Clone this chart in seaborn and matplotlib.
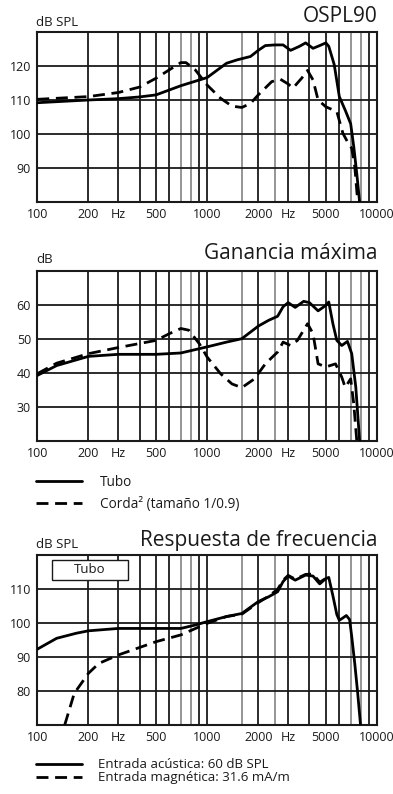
import matplotlib
matplotlib.use("Agg")
import matplotlib.pyplot as plt
import seaborn as sns
import numpy as np
import pandas as pd
from matplotlib.patches import Rectangle
from matplotlib.lines import Line2D

sns.set_style("white")
plt.rcParams['font.family'] = ['Open Sans', 'DejaVu Sans']

# ---------------- data ----------------
# OSPL90
ospl_tubo_f = [100, 200, 300, 400, 500, 700, 1000, 1300, 1500, 1800, 2000, 2200, 2500, 2800, 3100, 3500,
               3800, 4200, 4600, 5000, 5200, 5600, 6000, 6500, 7000, 7300, 7600, 7900]
ospl_tubo_v = [109.2, 110.0, 110.4, 110.9, 111.5, 114.2, 116.6, 120.8, 121.8, 122.8, 124.6, 126.0, 126.2,
               126.2, 124.6, 125.8, 126.8, 125.2, 126.0, 126.8, 125.8, 120.4, 111.0, 107.0, 103.0, 96.2, 88.4, 80.0]
ospl_corda_f = [100, 200, 300, 400, 500, 600, 700, 750, 850, 1000, 1200, 1400, 1600, 1800, 2000, 2400, 2700,
                3000, 3200, 3600, 3900, 4200, 4500, 5000, 5800, 6300, 6700, 7100, 7400, 7700]
ospl_corda_v = [110.2, 111.0, 112.2, 113.8, 116.4, 118.9, 121.0, 121.0, 118.9, 114.4, 110.5, 108.2, 107.8,
                109.0, 111.5, 115.4, 116.1, 114.7, 113.5, 116.4, 118.7, 115.9, 110.0, 108.0, 106.6, 100.2,
                97.7, 95.8, 90.4, 80.0]

# Ganancia máxima
gain_tubo_f = [100, 130, 200, 300, 500, 700, 1000, 1300, 1600, 2000, 2300, 2600, 2800, 3000, 3300, 3700,
               4000, 4500, 5000, 5200, 5500, 5800, 6200, 6700, 7100, 7500, 7900]
gain_tubo_v = [39.2, 42.1, 44.8, 45.4, 45.4, 45.8, 47.6, 49.0, 50.0, 53.7, 55.4, 56.6, 59.4, 60.6, 59.2, 61.0,
               60.6, 58.2, 59.8, 60.8, 54.4, 49.5, 48.0, 49.2, 45.6, 35.8, 20.0]
gain_corda_f = [100, 130, 200, 300, 500, 600, 700, 780, 900, 1000, 1200, 1400, 1600, 1900, 2200, 2600, 2800,
                3100, 3400, 3900, 4200, 4500, 5000, 5700, 6200, 6500, 7000, 7300, 7600]
gain_corda_v = [39.7, 42.8, 45.6, 47.4, 49.5, 51.5, 53.0, 52.5, 48.5, 44.6, 39.7, 36.7, 35.6, 38.2, 42.6, 46.1,
                49.0, 48.0, 49.5, 54.4, 51.5, 42.6, 41.7, 42.6, 38.7, 35.7, 38.2, 30.8, 20.0]

# Respuesta de frecuencia
resp_acust_f = [100, 130, 170, 200, 300, 500, 700, 850, 1000, 1300, 1600, 2000, 2300, 2600, 2800, 3000,
                3300, 3800, 4200, 4600, 5000, 5200, 5500, 5800, 6000, 6300, 6600, 6900, 7100, 7400, 7700, 8000]
resp_acust_v = [92.3, 95.5, 97.0, 97.7, 98.4, 98.4, 98.4, 99.4, 100.4, 101.9, 102.8, 106.3, 107.7, 109.2,
                112.2, 113.8, 112.6, 114.1, 113.8, 111.5, 113.1, 113.4, 108.0, 102.5, 100.8, 101.5, 102.2,
                101.0, 96.0, 88.0, 79.3, 70.0]
resp_magn_f = [145, 165, 200, 230, 300, 500, 700, 1000, 1300, 1600, 2000, 2300, 2600, 2800, 3000, 3300,
               3800, 4200, 4600, 5000]
resp_magn_v = [70.0, 79.3, 85.2, 88.1, 90.6, 94.5, 96.5, 99.9, 101.9, 102.6, 106.0, 107.9, 109.9, 112.6,
               114.0, 112.9, 114.3, 114.4, 112.0, 113.1]

x_tick_vals = [100, 200, 300, 500, 1000, 2000, 3000, 5000, 10000]
x_tick_labels = ['100', '200', 'Hz', '500', '1000', '2000', 'Hz', '5000', '10000']
grid_dark = [200, 300, 400, 500, 600, 900, 1000, 2000, 3000, 4000, 5000, 6000, 9000]
grid_gray = [700, 800, 1600, 2500, 7000, 8000]

# ---------------- figure ----------------
W, H = 393, 794
fig = plt.figure(figsize=(W / 100, H / 100), dpi=100)

DASH = (0, (4.3, 2.4))
LW = 2.0
INK = '#1a1a1a'


def make_axes(top_px, ylim, yticks, series):
    ax = fig.add_axes([37.3 / W, 1 - (top_px + 170) / H, 339.7 / W, 170 / H])
    for f, v, ls in series:
        df = pd.DataFrame({'f': f, 'v': v})
        sns.lineplot(data=df, x='f', y='v', ax=ax, color='black', linewidth=LW,
                     estimator=None, sort=False, zorder=5)
        ax.lines[-1].set_linestyle(ls)
    ax.set_xscale('log')
    ax.set_xlim(100, 10000)
    ax.set_ylim(*ylim)
    for g in grid_dark:
        ax.axvline(g, color=INK, lw=1.3, zorder=1)
    for g in grid_gray:
        ax.axvline(g, color='#8c8c8c', lw=1.3, zorder=1)
    for t in yticks:
        ax.axhline(t, color=INK, lw=1.3, zorder=1)
    ax.set_xticks(x_tick_vals)
    ax.set_xticklabels(x_tick_labels)
    ax.xaxis.set_minor_locator(matplotlib.ticker.NullLocator())
    ax.set_yticks(yticks)
    ax.set_yticklabels([str(t) for t in yticks])
    ax.tick_params(axis='both', length=0, labelsize=9, colors=INK, pad=4.5)
    ax.set_xlabel('')
    ax.set_ylabel('')
    for s in ax.spines.values():
        s.set_color(INK)
        s.set_linewidth(1.5)
        s.set_visible(True)
    ax.grid(False)
    return ax


ax1 = make_axes(32, (80, 130), [90, 100, 110, 120],
                [(ospl_tubo_f, ospl_tubo_v, '-'), (ospl_corda_f, ospl_corda_v, DASH)])
ax2 = make_axes(270.7, (20, 70), [30, 40, 50, 60],
                [(gain_tubo_f, gain_tubo_v, '-'), (gain_corda_f, gain_corda_v, DASH)])
ax3 = make_axes(555, (70, 120), [80, 90, 100, 110],
                [(resp_acust_f, resp_acust_v, '-'), (resp_magn_f, resp_magn_v, DASH)])


def ftext(xpx, ypx, s, **kw):
    fig.text(xpx / W, 1 - ypx / H, s, va='baseline', color=INK, **kw)


ftext(378, 21.7, 'OSPL90', ha='right', fontsize=15)
ftext(378, 259.3, 'Ganancia máxima', ha='right', fontsize=15)
ftext(378, 546, 'Respuesta de frecuencia', ha='right', fontsize=15)
ftext(36.5, 26, 'dB SPL', ha='left', fontsize=9.5)
ftext(36.5, 263.3, 'dB', ha='left', fontsize=9.5)
ftext(36.5, 548.3, 'dB SPL', ha='left', fontsize=9.5)

# Tubo box in third chart
ax3.add_patch(Rectangle((0.0433, 0.853), 0.2237, 0.1176, transform=ax3.transAxes,
                        facecolor='white', edgecolor=INK, lw=1.0, zorder=4))
ax3.text(0.155, 0.912, 'Tubo', transform=ax3.transAxes, ha='center', va='center',
         fontsize=9.5, color=INK, zorder=6)

# legends
h_solid = Line2D([], [], color='black', lw=LW)
h_dash = Line2D([], [], color='black', lw=LW, linestyle=DASH)

leg1 = fig.legend([h_solid, h_dash], ['Tubo', 'Corda² (tamaño 1/0.9)'], loc='upper left',
                  bbox_to_anchor=(36 / W, 1 - 474.5 / H), frameon=False, fontsize=9.8,
                  handlelength=3.4, handletextpad=1.3, labelspacing=0.55, borderpad=0,
                  borderaxespad=0)
leg2 = fig.legend([h_solid, h_dash], ['Entrada acústica: 60 dB SPL', 'Entrada magnética: 31.6 mA/m'],
                  loc='upper left', bbox_to_anchor=(36 / W, 1 - 758.5 / H), frameon=False,
                  fontsize=9.5, handlelength=3.5, handletextpad=1.2, labelspacing=0.0,
                  borderpad=0, borderaxespad=0)
for lg in (leg1, leg2):
    for t in lg.get_texts():
        t.set_color(INK)

fig.savefig('out.png', dpi=100, facecolor='white')
